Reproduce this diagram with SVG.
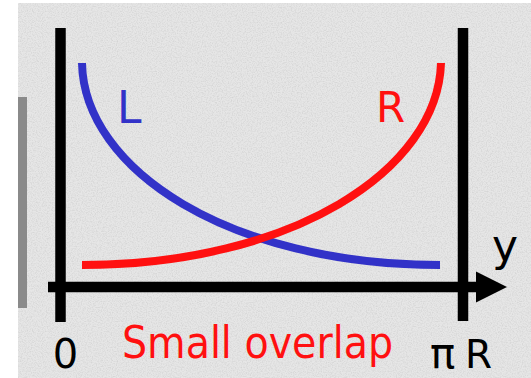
<svg xmlns="http://www.w3.org/2000/svg" width="531" height="378" viewBox="0 0 531 378">
  <defs>
    <filter id="noise" x="0" y="0" width="100%" height="100%">
      <feTurbulence type="fractalNoise" baseFrequency="0.8" numOctaves="2" seed="3" result="t"/>
      <feColorMatrix in="t" type="matrix" values="0 0 0 0 0.6  0 0 0 0 0.6  0 0 0 0 0.6  0 0 0 1.4 -0.55" result="n"/>
      <feComposite in="n" in2="SourceGraphic" operator="in"/>
    </filter>
    <marker id="arrow" markerUnits="userSpaceOnUse" markerWidth="32" markerHeight="32" refX="0" refY="16" orient="auto">
      <polygon points="0,0.5 31,16 0,31.5" fill="#000"/>
    </marker>
    <style>
      .axis { stroke: #000; stroke-width: 10.5; fill: none; }
      .curve { fill: none; stroke-width: 8; stroke-linecap: butt; }
      .lbl { font-family: "DejaVu Sans", "Noto Sans", sans-serif; }
    </style>
  </defs>
  <rect x="0" y="0" width="531" height="378" fill="#ffffff"/>
  <rect x="18" y="3" width="513" height="375" fill="#e6e6e6"/>
  <rect x="18" y="3" width="513" height="375" fill="#e6e6e6" filter="url(#noise)"/>
  <rect x="18" y="97" width="9" height="211" fill="#8a8a8a"/>

  <g id="connectors">
    <line id="axis-left" class="axis" x1="60.5" y1="28" x2="60.5" y2="322"/>
    <line id="axis-right" class="axis" x1="463" y1="28" x2="463" y2="321"/>
    <line id="axis-y" class="axis" x1="48" y1="287" x2="476" y2="287" marker-end="url(#arrow)"/>
  </g>

  <g id="curve-L">
    <path class="curve" stroke="#3232c8" d="M82,63 C84,170 230,265 440,265"/>
    <text class="lbl" x="117" y="123" font-size="44" fill="#3232c8">L</text>
  </g>
  <g id="curve-R">
    <path class="curve" stroke="#ff1010" d="M82,265 C292,265 438,170 441,63"/>
    <text class="lbl" x="376" y="122" font-size="42" fill="#ff1010">R</text>
  </g>

  <g id="label-y">
    <text class="lbl" x="505" y="261" font-size="44" text-anchor="middle" fill="#000">y</text>
  </g>
  <g id="label-0">
    <text class="lbl" x="65.5" y="368" font-size="40" text-anchor="middle" fill="#000">0</text>
  </g>
  <g id="label-piR">
    <text class="lbl" x="430" y="368" font-size="42" fill="#000">π</text>
    <text class="lbl" x="465" y="368" font-size="39" fill="#000">R</text>
  </g>
  <g id="label-overlap">
    <text class="lbl" x="122" y="358" font-size="44" fill="#ff1010" textLength="271" lengthAdjust="spacingAndGlyphs">Small overlap</text>
  </g>
</svg>
